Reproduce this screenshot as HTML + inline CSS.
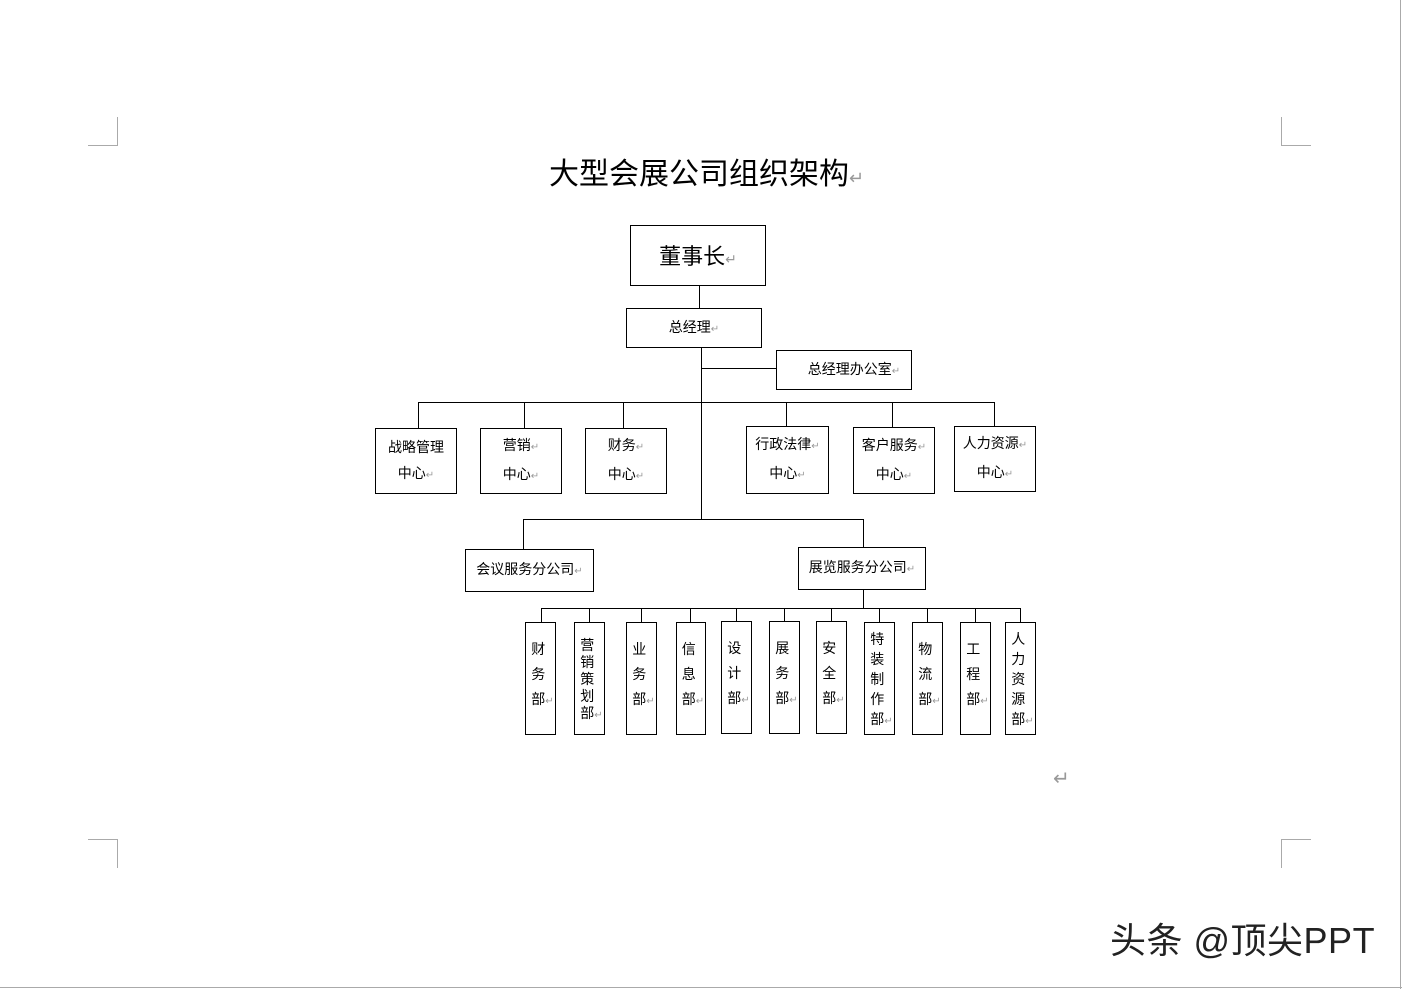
<!DOCTYPE html>
<html><head><meta charset="utf-8"><style>
body{margin:0;width:1402px;height:989px;background:#fff;position:relative;overflow:hidden;font-family:"Liberation Sans","Noto Sans CJK SC",sans-serif;color:#000}
.b{position:absolute;border:1px solid #000;box-sizing:border-box;background:#fff;display:flex;align-items:center;justify-content:center;text-align:center;font-size:14px;line-height:26px}
.b>div{white-space:nowrap}
.r{color:#999;font-size:10px}
.v{line-height:25px;font-size:14px;align-items:flex-start;padding-top:2px}
.v>div{text-align:left;padding-left:4px}
.t{position:absolute}
</style></head><body>
<svg width="1402" height="989" style="position:absolute;left:0;top:0">
<g stroke="#aaa" stroke-width="1" fill="none">
<line x1="1400.5" y1="0" x2="1400.5" y2="989"/>
<line x1="0" y1="987.5" x2="1402" y2="987.5"/>
<polyline points="88,145.5 117.5,145.5 117.5,117"/>
<polyline points="1311,145.5 1281.5,145.5 1281.5,117"/>
<polyline points="88,839.5 117.5,839.5 117.5,868"/>
<polyline points="1311,839.5 1281.5,839.5 1281.5,868"/>
</g>
<g stroke="#000" stroke-width="1" fill="none">
<line x1="699.5" y1="285" x2="699.5" y2="308"/>
<line x1="701.5" y1="347" x2="701.5" y2="519"/>
<line x1="701" y1="368.5" x2="776" y2="368.5"/>
<line x1="418" y1="402.5" x2="995" y2="402.5"/>
<line x1="418.5" y1="402" x2="418.5" y2="428"/>
<line x1="524.5" y1="402" x2="524.5" y2="428"/>
<line x1="623.5" y1="402" x2="623.5" y2="428"/>
<line x1="786.5" y1="402" x2="786.5" y2="426"/>
<line x1="892.5" y1="402" x2="892.5" y2="427"/>
<line x1="994.5" y1="402" x2="994.5" y2="426"/>
<line x1="523" y1="519.5" x2="864" y2="519.5"/>
<line x1="523.5" y1="519" x2="523.5" y2="549"/>
<line x1="863.5" y1="519" x2="863.5" y2="547"/>
<line x1="863.5" y1="589" x2="863.5" y2="608"/>
<line x1="541" y1="608.5" x2="1021" y2="608.5"/>
<line x1="541.5" y1="608" x2="541.5" y2="622"/>
<line x1="589.5" y1="608" x2="589.5" y2="622"/>
<line x1="641.5" y1="608" x2="641.5" y2="622"/>
<line x1="690.5" y1="608" x2="690.5" y2="622"/>
<line x1="736.5" y1="608" x2="736.5" y2="622"/>
<line x1="784.5" y1="608" x2="784.5" y2="622"/>
<line x1="831.5" y1="608" x2="831.5" y2="622"/>
<line x1="879.5" y1="608" x2="879.5" y2="622"/>
<line x1="927.5" y1="608" x2="927.5" y2="622"/>
<line x1="975.5" y1="608" x2="975.5" y2="622"/>
<line x1="1020.5" y1="608" x2="1020.5" y2="622"/>
</g>
</svg>
<div class="t" style="left:549px;top:156px;font-size:30px;line-height:38px">大型会展公司组织架构<span class="r" style="font-size:18px">↵</span></div>
<div class="b" style="left:630px;top:225px;width:136px;height:61px;font-size:22px;padding-top:4px"><div>董事长<span class="r" style="font-size:14px">↵</span></div></div>
<div class="b" style="left:626px;top:308px;width:136px;height:40px"><div>总经理<span class="r">↵</span></div></div>
<div class="b" style="left:776px;top:350px;width:136px;height:40px;padding-left:20px"><div>总经理办公室<span class="r">↵</span></div></div>
<div class="b" style="left:375px;top:428px;width:82px;height:66px"><div>战略管理<br>中心<span class="r">↵</span></div></div>
<div class="b" style="left:480px;top:428px;width:82px;height:66px"><div>营销<span class="r">↵</span><br>中心<span class="r">↵</span></div></div>
<div class="b" style="left:585px;top:428px;width:82px;height:66px"><div>财务<span class="r">↵</span><br>中心<span class="r">↵</span></div></div>
<div class="b" style="left:746px;top:426px;width:83px;height:68px"><div>行政法律<span class="r">↵</span><br>中心<span class="r">↵</span></div></div>
<div class="b" style="left:853px;top:427px;width:82px;height:67px"><div>客户服务<span class="r">↵</span><br>中心<span class="r">↵</span></div></div>
<div class="b" style="left:954px;top:426px;width:82px;height:66px"><div>人力资源<span class="r">↵</span><br>中心<span class="r">↵</span></div></div>
<div class="b" style="left:465px;top:549px;width:129px;height:43px"><div>会议服务分公司<span class="r">↵</span></div></div>
<div class="b" style="left:798px;top:547px;width:128px;height:43px"><div>展览服务分公司<span class="r">↵</span></div></div>
<div class="b v" style="left:525px;top:622px;width:31px;height:113px;padding-top:14px"><div>财<br>务<br>部<span class="r">↵</span></div></div>
<div class="b v" style="left:574px;top:622px;width:31px;height:113px;line-height:17px;padding-top:14px"><div>营<br>销<br>策<br>划<br>部<span class="r">↵</span></div></div>
<div class="b v" style="left:626px;top:622px;width:31px;height:113px;padding-top:14px"><div>业<br>务<br>部<span class="r">↵</span></div></div>
<div class="b v" style="left:676px;top:622px;width:30px;height:113px;padding-top:14px"><div>信<br>息<br>部<span class="r">↵</span></div></div>
<div class="b v" style="left:721px;top:621px;width:31px;height:113px;padding-top:14px"><div>设<br>计<br>部<span class="r">↵</span></div></div>
<div class="b v" style="left:769px;top:621px;width:31px;height:113px;padding-top:14px"><div>展<br>务<br>部<span class="r">↵</span></div></div>
<div class="b v" style="left:816px;top:621px;width:31px;height:113px;padding-top:14px"><div>安<br>全<br>部<span class="r">↵</span></div></div>
<div class="b v" style="left:864px;top:622px;width:31px;height:113px;line-height:20px;padding-top:6px"><div>特<br>装<br>制<br>作<br>部<span class="r">↵</span></div></div>
<div class="b v" style="left:912px;top:622px;width:31px;height:113px;padding-top:14px"><div>物<br>流<br>部<span class="r">↵</span></div></div>
<div class="b v" style="left:960px;top:622px;width:31px;height:113px;padding-top:14px"><div>工<br>程<br>部<span class="r">↵</span></div></div>
<div class="b v" style="left:1005px;top:622px;width:31px;height:113px;line-height:20px;padding-top:6px"><div>人<br>力<br>资<br>源<br>部<span class="r">↵</span></div></div>
<div class="t r" style="left:1053px;top:766px;font-size:20px">↵</div>
<div class="t" style="left:1110px;top:918px;font-size:36px;line-height:46px;color:#222;letter-spacing:0.5px">头条 @顶尖PPT</div>
</body></html>
